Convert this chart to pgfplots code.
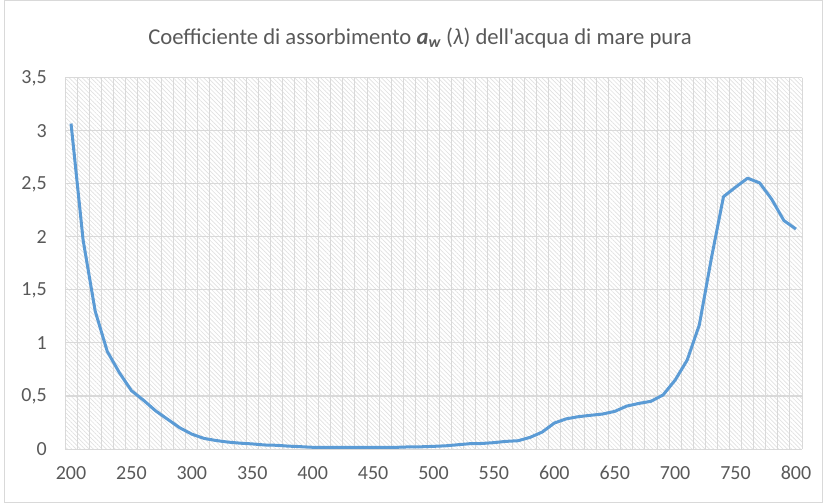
\documentclass[border=0pt]{standalone}
\usepackage{fontspec}
\setmainfont{Carlito}
\usepackage{pgfplots}
\pgfplotsset{compat=1.18}
\usetikzlibrary{patterns.meta}
\definecolor{txt}{HTML}{595959}
\definecolor{serie}{HTML}{5B9BD5}
\definecolor{gridc}{HTML}{D9D9D9}
\begin{document}
\begin{tikzpicture}
\path[use as bounding box] (0pt,0pt) rectangle (620.25pt,377.25pt);
\draw[gridc, line width=0.75pt] (3.4pt,0.6pt) rectangle (617pt,376.6pt);
\begin{axis}[
  at={(48.75pt,40.5pt)}, anchor=south west,
  scale only axis, width=552.75pt, height=278.25pt,
  xmin=195, xmax=805, ymin=0, ymax=3.5,
  axis line style={draw=none},
  axis background/.style={pattern={Lines[angle=-45,distance=2.3pt,line width=0.5pt]}, pattern color=black!12},
  xtick={200,250,...,800},
  minor xtick={195,205,...,805},
  ytick={0,0.5,...,3.5},
  ymajorgrids, xminorgrids,
  major tick length=0pt, minor tick length=0pt,
  major grid style={gridc, line width=0.75pt},
  minor grid style={gridc, line width=0.75pt},
  /pgf/number format/assume math mode=true,
  /pgf/number format/use comma,
  /pgf/number format/1000 sep={},
  tick label style={font=\fontsize{15}{18}\selectfont, text=txt, inner sep=0pt},
  xticklabel style={anchor=base, yshift=-22.7pt},
  yticklabel style={anchor=east, xshift=-13.5pt},
  clip=false,
]
\addplot[serie, line width=2.25pt, line join=round] table {
x y
200 3.07
210 1.97
220 1.30
230 0.92
240 0.72
250 0.55
260 0.46
270 0.36
280 0.28
290 0.20
300 0.14
310 0.10
320 0.08
330 0.065
340 0.055
350 0.048
360 0.038
370 0.035
380 0.027
390 0.022
400 0.016
410 0.015
420 0.015
430 0.015
440 0.015
450 0.015
460 0.015
470 0.016
480 0.020
490 0.021
500 0.025
510 0.030
520 0.040
530 0.050
540 0.052
550 0.060
560 0.072
570 0.078
580 0.11
590 0.16
600 0.245
610 0.285
620 0.305
630 0.318
640 0.330
650 0.355
660 0.405
670 0.430
680 0.450
690 0.510
700 0.650
710 0.840
720 1.170
730 1.800
740 2.380
750 2.470
760 2.555
770 2.510
780 2.355
790 2.155
800 2.075
};
\end{axis}
\node[text=txt, font=\fontsize{17}{20}\selectfont] at (315pt,348.75pt)
  {Coefficiente di assorbimento {\bfseries\itshape a\textsubscript{w}} ({\itshape λ}) dell\textquotesingle acqua di mare pura};
\end{tikzpicture}
\end{document}
